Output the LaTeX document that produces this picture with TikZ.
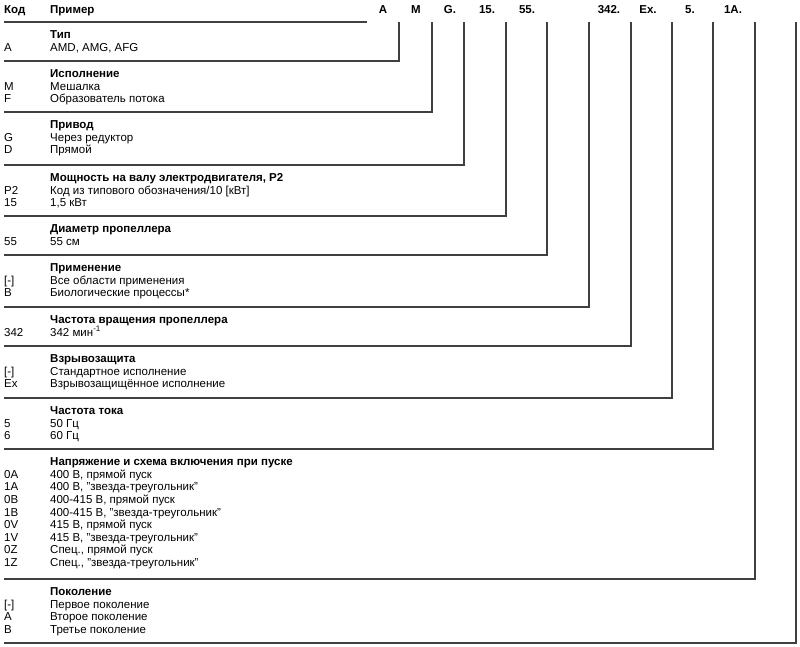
\documentclass[tikz,border=0pt]{standalone}
\usepackage{fontspec}
\setmainfont{Liberation Sans}
\usetikzlibrary{positioning}
\tikzset{code col/.style={anchor=north west, yshift=8.82pt, inner sep=0pt, align=left},}
\tikzset{text col/.style={anchor=north west, yshift=8.82pt, inner sep=0pt, align=left},}
\tikzset{top key/.style={anchor=base, inner sep=0pt, font=\fontsize{11.5}{12.6}\selectfont\bfseries},}
\tikzset{frame line/.style={draw=black!75, line width=1.1pt},}

\begin{document}
\begin{tikzpicture}[x=1pt, y=-1pt, font=\fontsize{11.5}{12.6}\selectfont]
     \useasboundingbox (0,0) rectangle (800,647);

     % header
     \node[code col] (hcode) at (4,13.5) {\strut\bfseries Код};
     \node[text col] (hex) at (50,13.5) {\strut\bfseries Пример};
     \coordinate (hl) at (4,22);
     \coordinate (hr) at (367,22);
     \draw[frame line] (hl) -- (hr);

     % keys of the example
     \node[top key] (kA) at (383,13.5) {A};
     \node[top key] (kM) at (416,13.5) {M};
     \node[top key] (kG) at (450,13.5) {G.};
     \node[top key] (kP) at (487,13.5) {15.};
     \node[top key] (kD) at (527,13.5) {55.};
     \node[top key] (kN) at (609,13.5) {342.};
     \node[top key] (kEx) at (648,13.5) {Ex.};
     \node[top key] (kF) at (690,13.5) {5.};
     \node[top key] (kU) at (733,13.5) {1A.};

     % sections
     \node[code col] (c1) at (4,38.5) {\strut\\A};
     \node[text col] (s1) at (50,38.5) {\strut\textbf{Тип}\\AMD, AMG, AFG};
     \node[code col] (c2) at (4,77.5) {\strut\\M\\F};
     \node[text col] (s2) at (50,77.5) {\strut\textbf{Исполнение}\\Мешалка\\Образователь потока};
     \node[code col] (c3) at (4,128.5) {\strut\\G\\D};
     \node[text col] (s3) at (50,128.5) {\strut\textbf{Привод}\\Через редуктор\\Прямой};
     \node[code col] (c4) at (4,181.5) {\strut\\P2\\15};
     \node[text col] (s4) at (50,181.5) {\strut\textbf{Мощность на валу электродвигателя, P2}\\Код из типового обозначения/10 [кВт]\\1,5 кВт};
     \node[code col] (c5) at (4,232.5) {\strut\\55};
     \node[text col] (s5) at (50,232.5) {\strut\textbf{Диаметр пропеллера}\\55 см};
     \node[code col] (c6) at (4,271.5) {\strut\\{[-]}\\B};
     \node[text col] (s6) at (50,271.5) {\strut\textbf{Применение}\\Все области применения\\Биологические процессы*};
     \node[code col] (c7) at (4,323.5) {\strut\\342};
     \node[text col] (s7) at (50,323.5) {\strut\textbf{Частота вращения пропеллера}\\342 мин\smash{\textsuperscript{-1}}};
     \node[code col] (c8) at (4,362.5) {\strut\\{[-]}\\Ex};
     \node[text col] (s8) at (50,362.5) {\strut\textbf{Взрывозащита}\\Стандартное исполнение\\Взрывозащищённое исполнение};
     \node[code col] (c9) at (4,414.5) {\strut\\5\\6};
     \node[text col] (s9) at (50,414.5) {\strut\textbf{Частота тока}\\50 Гц\\60 Гц};
     \node[code col] (c10) at (4,465.5) {\strut\\0A\\1A\\0B\\1B\\0V\\1V\\0Z\\1Z};
     \node[text col] (s10) at (50,465.5) {\strut\textbf{Напряжение и схема включения при пуске}\\400 В, прямой пуск\\400 В, "звезда-треугольник"\\400-415 В, прямой пуск\\400-415 В, "звезда-треугольник"\\415 В, прямой пуск\\415 В, "звезда-треугольник"\\Спец., прямой пуск\\Спец., "звезда-треугольник"};
     \node[code col] (c11) at (4,595.5) {\strut\\{[-]}\\A\\B};
     \node[text col] (s11) at (50,595.5) {\strut\textbf{Поколение}\\Первое поколение\\Второе поколение\\Третье поколение};

     % frame lines
     \coordinate (v1) at (399,22);  \coordinate (h1) at (4,61);
     \coordinate (v2) at (432,22);  \coordinate (h2) at (4,112);
     \coordinate (v3) at (464,22);  \coordinate (h3) at (4,165);
     \coordinate (v4) at (506,22);  \coordinate (h4) at (4,216);
     \coordinate (v5) at (547,22);  \coordinate (h5) at (4,255);
     \coordinate (v6) at (589,22);  \coordinate (h6) at (4,307);
     \coordinate (v7) at (631,22);  \coordinate (h7) at (4,346);
     \coordinate (v8) at (672,22);  \coordinate (h8) at (4,398);
     \coordinate (v9) at (713,22);  \coordinate (h9) at (4,449);
     \coordinate (v10) at (755,22); \coordinate (h10) at (4,579);
     \coordinate (v11) at (796,22); \coordinate (h11) at (4,643);

     \draw[frame line] (h1) -| (v1);
     \draw[frame line] (h2) -| (v2);
     \draw[frame line] (h3) -| (v3);
     \draw[frame line] (h4) -| (v4);
     \draw[frame line] (h5) -| (v5);
     \draw[frame line] (h6) -| (v6);
     \draw[frame line] (h7) -| (v7);
     \draw[frame line] (h8) -| (v8);
     \draw[frame line] (h9) -| (v9);
     \draw[frame line] (h10) -| (v10);
     \draw[frame line] (h11) -| (v11);
\end{tikzpicture}
\end{document}
